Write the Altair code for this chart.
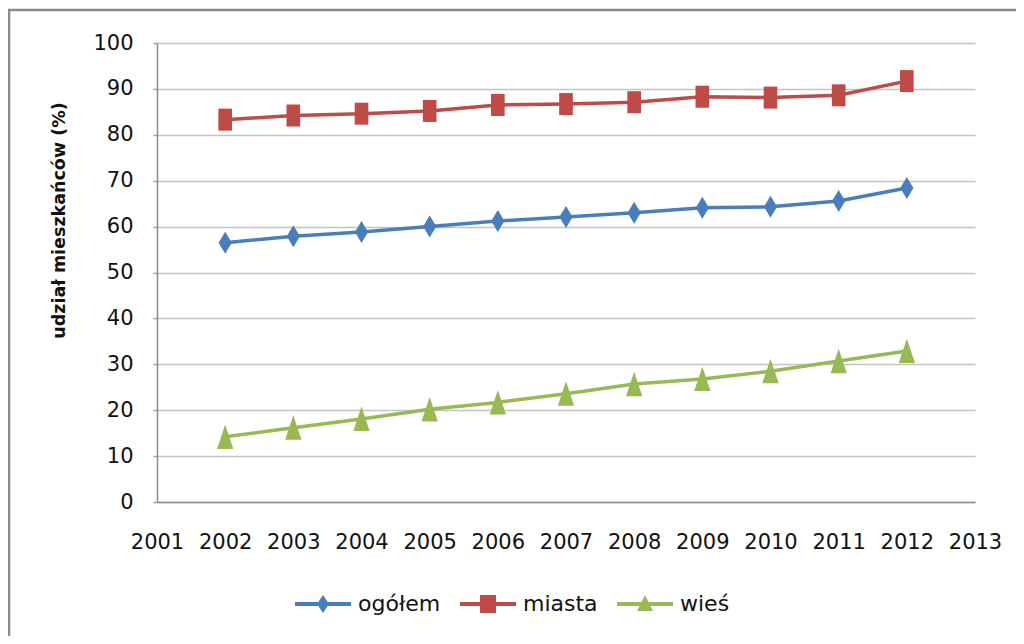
import altair as alt
import pandas as pd

years = [2002, 2003, 2004, 2005, 2006, 2007, 2008, 2009, 2010, 2011, 2012]
ogolem = [56.5, 57.9, 58.8, 60.0, 61.2, 62.1, 63.0, 64.1, 64.3, 65.6, 68.4]
miasta = [83.3, 84.2, 84.6, 85.2, 86.5, 86.7, 87.1, 88.3, 88.1, 88.6, 91.7]
wies = [14.2, 16.2, 18.1, 20.2, 21.7, 23.6, 25.7, 26.8, 28.5, 30.7, 32.9]

series_names = ["ogółem", "miasta", "wieś"]
series_colors = ["#4A7EBB", "#BE4B48", "#98B954"]
x_ticks = list(range(2001, 2014))
y_ticks = list(range(0, 101, 10))

rows = []
for name, vals in zip(series_names, [ogolem, miasta, wies]):
    for yr, v in zip(years, vals):
        rows.append({"rok": yr, "wartosc": v, "seria": name})
df = pd.DataFrame(rows)

FONT = "DejaVu Sans"

# data marker shapes (tall, as in the reference)
marker_paths = [
    "M0,-1 L0.6,0 L0,1 L-0.6,0 Z",
    "M-0.62,-1 L0.62,-1 L0.62,1 L-0.62,1 Z",
    "M0,-1.12 L0.74,1.1 L-0.74,1.1 Z",
]
# legend symbols: line segment with marker
legend_paths = [
    "M-2.8,-0.2 L-0.47,-0.2 L0,-0.9 L0.47,-0.2 L2.8,-0.2 L2.8,0.2 L0.47,0.2 L0,0.9 L-0.47,0.2 L-2.8,0.2 Z",
    "M-2.8,-0.2 L-0.8,-0.2 L-0.8,-0.9 L0.8,-0.9 L0.8,-0.2 L2.8,-0.2 L2.8,0.2 L0.8,0.2 L0.8,0.9 L-0.8,0.9 L-0.8,0.2 L-2.8,0.2 Z",
    "M-2.8,-0.2 L-0.35,-0.2 L0,-0.9 L0.35,-0.2 L2.8,-0.2 L2.8,0.2 L0.55,0.2 L0.8,0.7 L-0.8,0.7 L-0.55,0.2 L-2.8,0.2 Z",
]

x_enc = alt.X(
    "rok:Q",
    scale=alt.Scale(domain=[2001, 2013], nice=False, zero=False),
    axis=alt.Axis(
        values=x_ticks, format="d", title=None, grid=False, ticks=False,
        labelFont=FONT, labelFontSize=21, labelColor="#111111",
        labelPadding=29, domainColor="#8C8C8C", domainWidth=1.5,
        labelFlush=False, labelOverlap=False,
    ),
)
y_enc = alt.Y(
    "wartosc:Q",
    scale=alt.Scale(domain=[0, 100], nice=False),
    axis=alt.Axis(
        values=y_ticks, title="udział mieszkańców (%)",
        titleFont=FONT, titleFontSize=17.5, titleFontWeight="bold", titleColor="#111111",
        titleAngle=270, titleX=-98, titleY=177, titleAlign="center", titleBaseline="middle",
        labelFont=FONT, labelFontSize=21, labelColor="#111111", labelPadding=20,
        tickSize=4, tickColor="#A0A0A0", tickWidth=1.5,
        gridColor="#C4C4C4", gridWidth=1.5,
        domainColor="#8C8C8C", domainWidth=1.5,
    ),
)
color_scale = alt.Scale(domain=series_names, range=series_colors)

lines = alt.Chart(df).mark_line(strokeWidth=3.5).encode(
    x=x_enc, y=y_enc,
    color=alt.Color("seria:N", scale=color_scale, legend=None),
    detail="seria:N",
)
points = alt.Chart(df).mark_point(filled=True, opacity=1, size=484).encode(
    x=x_enc, y=y_enc,
    color=alt.Color("seria:N", scale=color_scale, legend=None),
    shape=alt.Shape("seria:N", scale=alt.Scale(domain=series_names, range=marker_paths), legend=None),
)
legend_props = dict(
    title=None, orient="none", direction="horizontal", legendX=155, legendY=550,
    symbolSize=400, symbolStrokeWidth=0, symbolOpacity=1, labelFont=FONT, labelFontSize=22,
    labelColor="#111111", labelOffset=24, columnPadding=19, padding=0,
)
legend_layer = alt.Chart(df).transform_filter("false").mark_point(filled=True, size=400).encode(
    x=x_enc, y=y_enc,
    color=alt.Color("seria:N", scale=color_scale, legend=alt.Legend(**legend_props)),
    shape=alt.Shape("seria:N", scale=alt.Scale(domain=series_names, range=legend_paths),
                    legend=alt.Legend(**legend_props)),
)

border_h = alt.Chart(pd.DataFrame({"a": [0]})).mark_rule(color="#8A8A8A", strokeWidth=2.5).encode(
    x=alt.value(-149), x2=alt.value(900), y=alt.value(-33)
)
border_v = alt.Chart(pd.DataFrame({"a": [0]})).mark_rule(color="#8A8A8A", strokeWidth=2.5).encode(
    x=alt.value(-148), y=alt.value(-34), y2=alt.value(620)
)

chart = alt.layer(border_h, border_v, lines, points, legend_layer).resolve_scale(
    shape="independent", color="independent"
).properties(
    width=818, height=459,
    autosize=alt.AutoSizeParams(type="none"),
    padding={"left": 149, "top": 35, "right": 41, "bottom": 134},
    background="white",
).configure_view(stroke=None)

chart.save("out.html", embed_options={"renderer": "svg", "actions": False})
